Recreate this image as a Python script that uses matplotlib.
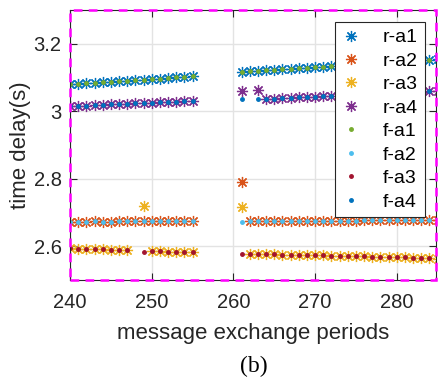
import numpy as np
import matplotlib
matplotlib.use("Agg")
import matplotlib.pyplot as plt
from matplotlib.patches import Rectangle

nan = np.nan
periods = list(range(240, 286))

r_a1 = [3.081, 3.082, 3.084, 3.085, 3.087, 3.088, 3.090, 3.091, 3.093, 3.094, 3.096, 3.097, 3.099, 3.100, 3.102, 3.104,
        nan, nan, nan, nan, nan,
        3.117, 3.118, 3.120, 3.121, 3.123, 3.124, 3.126, 3.128, 3.129, 3.131, 3.132, 3.134, 3.136, 3.137, 3.139,
        3.140, 3.142, 3.144, 3.145, 3.147, 3.148, 3.150, 3.152, 3.153, 3.155]
r_a2 = [2.673, 2.673, 2.673, 2.674, 2.673, 2.673, 2.674, 2.674, 2.674, 2.674, 2.674, 2.674, 2.674, 2.674, 2.674, 2.674,
        nan, nan, nan, nan, nan,
        2.791, 2.674, 2.674, 2.675, 2.675, 2.675, 2.675, 2.675, 2.675, 2.676, 2.676, 2.676, 2.676, 2.676, 2.676,
        2.677, 2.677, 2.677, 2.677, 2.677, 2.678, 2.678, 2.678, 2.678, 2.679]
r_a3 = [2.594, 2.593, 2.592, 2.592, 2.591, 2.590, 2.589, 2.589, nan, 2.718, 2.585, 2.585, 2.584, 2.584, 2.583, 2.583,
        nan, nan, nan, nan, nan,
        2.716, 2.577, 2.577, 2.576, 2.576, 2.575, 2.575, 2.574, 2.574, 2.573, 2.573, 2.572, 2.572, 2.571, 2.570,
        2.570, 2.569, 2.569, 2.568, 2.567, 2.567, 2.566, 2.565, 2.564, 2.563]
r_a4 = [3.015, 3.016, 3.017, 3.018, 3.019, 3.020, 3.021, 3.022, 3.023, 3.024, 3.025, 3.026, 3.027, 3.028, 3.029, 3.030,
        nan, nan, nan, nan, nan,
        3.061, nan, 3.062, 3.036, 3.037, 3.039, 3.040, 3.041, 3.042, 3.043, 3.045, 3.046, 3.047, 3.048, 3.049,
        3.050, 3.052, 3.053, 3.054, 3.055, 3.056, 3.057, 3.058, 3.059, 3.060]

f_a1 = list(r_a1)
f_a2 = r_a2[:21] + [2.673] + r_a2[22:]
f_a3 = r_a3[:9] + [2.583] + r_a3[10:21] + [2.577] + r_a3[22:]
f_a4 = r_a4[:21] + [3.036, nan, 3.037] + r_a4[24:]

r_labels = ["r-a1", "r-a2", "r-a3", "r-a4"]
f_labels = ["f-a1", "f-a2", "f-a3", "f-a4"]
r_colors = ["#0072BD", "#D95319", "#EDB120", "#7E2F8E"]
f_colors = ["#77AC30", "#4DBEEE", "#A2142F", "#0072BD"]

xticks = [240, 250, 260, 270, 280]
yticks = [2.6, 2.8, 3.0, 3.2]
yticklabels = ["2.6", "2.8", "3", "3.2"]

plt.rcParams['font.family'] = ['Liberation Sans', 'DejaVu Sans']

fig = plt.figure(figsize=(4.38, 3.83), dpi=100)
ax = fig.add_axes([70/438, 1-280/383, (436-70)/438, (280-10)/383])

for vals, lab, c in zip([r_a1, r_a2, r_a3, r_a4], r_labels, r_colors):
    ax.plot(periods, vals, linestyle='none', marker=(8, 2, 0), markersize=8,
            markeredgewidth=0.9, color=c, label=lab)
for vals, lab, c in zip([f_a1, f_a2, f_a3, f_a4], f_labels, f_colors):
    ax.plot(periods, vals, linestyle='none', marker='.', markersize=5,
            color=c, label=lab)

ax.set_xlim(240, 284.8)
ax.set_ylim(2.5, 3.3)
ax.set_xticks(xticks)
ax.set_yticks(yticks)
ax.set_yticklabels(yticklabels)
ax.grid(True, color='#e3e3e3', linewidth=1)
ax.set_axisbelow(True)
ax.tick_params(direction='in', length=5, width=0.8, colors='#262626',
               labelsize=14.5, top=True, right=True)
ax.tick_params(axis='x', pad=9)
ax.tick_params(axis='y', pad=6)
for s in ax.spines.values():
    s.set_color('#262626')
    s.set_linewidth(0.8)

ax.set_xlabel("message exchange periods", fontsize=16, color='#262626', labelpad=8)
ax.set_ylabel("time delay(s)", fontsize=16, color='#262626', labelpad=2)

rect = Rectangle((0, 0), 1, 1, transform=ax.transAxes, fill=False,
                 edgecolor='#FF00FF', linewidth=1.8, linestyle=(0, (3.5, 2.5)),
                 clip_on=False, zorder=10)
ax.add_patch(rect)

leg = ax.legend(loc='upper right', bbox_to_anchor=(425/438, 1-22/383),
                bbox_transform=fig.transFigure, borderaxespad=0, fontsize=14,
                frameon=True, fancybox=False, framealpha=1, edgecolor='#262626',
                handlelength=0.9, handletextpad=1.2, labelspacing=0.3,
                borderpad=0.35)
leg.get_frame().set_linewidth(0.8)
leg.set_zorder(20)

fig.text(254/438, 1-366/383, "(b)", fontsize=17, ha='center', va='center',
         family='Liberation Serif', color='black')

fig.savefig("out.png", dpi=100)
